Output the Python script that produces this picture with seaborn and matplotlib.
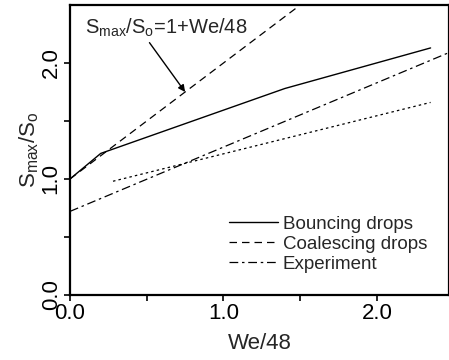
import numpy as np
import pandas as pd
import seaborn as sns
import matplotlib
matplotlib.use('Agg')
import matplotlib.pyplot as plt

# Daten
we_bounce = [0.0, 0.2, 1.4, 2.35]
s_bounce = [1.0, 1.22, 1.78, 2.13]

we_coal = [0.0, 1.5]
s_coal = [1.0, 2.5]

we_exp = [0.0, 2.47]
s_exp = [0.72, 2.09]

we_dot = [0.28, 2.35]
s_dot = [0.98, 1.66]

x_ticks = [0.0, 1.0, 2.0]
y_ticks = [0.0, 1.0, 2.0]

sns.set_style('ticks')
plt.rcParams['font.family'] = ['Liberation Sans', 'DejaVu Sans']
plt.rcParams['mathtext.fontset'] = 'custom'
plt.rcParams['mathtext.rm'] = 'Liberation Sans'

fig = plt.figure(figsize=(4.49, 3.6), dpi=100)
ax = fig.add_axes([0.156, 0.181, 0.844, 0.805])

sns.lineplot(x=we_bounce, y=s_bounce, ax=ax, color='black', lw=1.0,
             label='Bouncing drops')
sns.lineplot(x=we_coal, y=s_coal, ax=ax, color='black', lw=0.9,
             linestyle=(0, (6, 4)), label='Coalescing drops')
sns.lineplot(x=we_exp, y=s_exp, ax=ax, color='black', lw=0.9,
             linestyle=(0, (7, 3, 2, 3)), label='Experiment')
sns.lineplot(x=we_dot, y=s_dot, ax=ax, color='black', lw=0.9,
             linestyle=(0, (2, 2.5)))

ax.set_xlim(0, 2.47)
ax.set_ylim(0, 2.5)
ax.set_xticks(x_ticks)
ax.set_xticklabels(['%.1f' % v for v in x_ticks], fontsize=16)
ax.set_xticks([0.5, 1.5], minor=True)
ax.set_yticks(y_ticks)
ax.set_yticklabels(['%.1f' % v for v in y_ticks], fontsize=16, rotation=90, va='center')
ax.set_yticks([0.5, 1.5], minor=True)
ax.tick_params(which='both', direction='out', length=4, width=1.2, colors='black', pad=2)

for s in ax.spines.values():
    s.set_linewidth(1.6)
    s.set_color('black')

ax.set_xlabel('We/48', fontsize=16, labelpad=6)
ax.set_ylabel(r'S$_\mathregular{max}$/S$_\mathregular{o}$', fontsize=16, labelpad=0)

ax.annotate(r'S$_\mathregular{max}$/S$_\mathregular{o}$=1+We/48', xy=(0.75, 1.75),
            xytext=(0.1, 2.30), fontsize=14.5, va='center', ha='left',
            arrowprops=dict(arrowstyle='-|>', color='black', lw=1.0,
                            shrinkA=0, shrinkB=0, mutation_scale=10,
                            relpos=(0.38, 0.0)))

ax.legend(loc='lower left', bbox_to_anchor=(0.40, 0.05), frameon=False,
          fontsize=13.5, handlelength=2.6, handletextpad=0.25,
          labelspacing=0.15, borderaxespad=0)

fig.savefig('out.png', dpi=100)
